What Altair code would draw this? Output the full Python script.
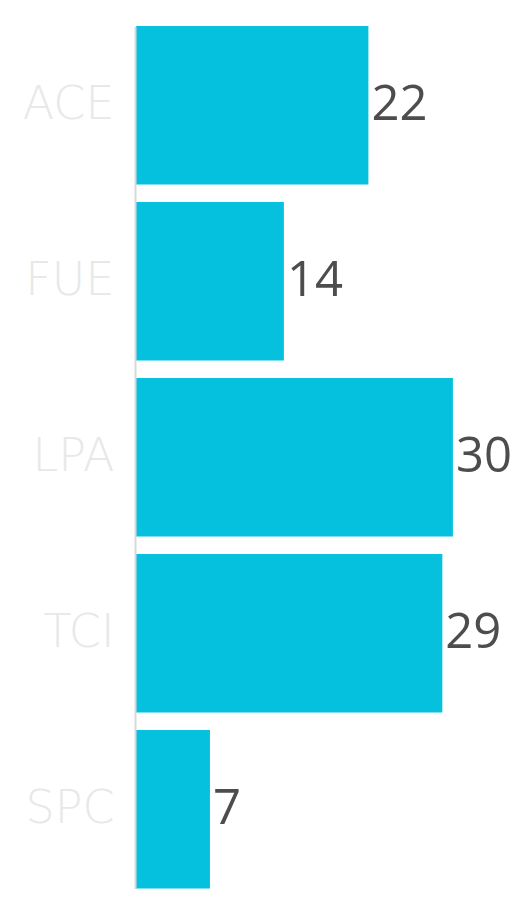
import altair as alt
import pandas as pd

categories = ["ACE", "FUE", "LPA", "TCI", "SPC"]
values = [22, 14, 30, 29, 7]

df = pd.DataFrame({"cat": categories, "val": values})

y = alt.Y(
    "cat:N",
    sort=categories,
    title=None,
    scale=alt.Scale(range=[18, 880.4], paddingInner=0.1, paddingOuter=0),
    axis=alt.Axis(
        ticks=False,
        domain=True,
        domainColor="#d9d9d9",
        domainWidth=2,
        offset=1,
        zindex=1,
        labelFont="DejaVu Sans",
        labelFontSize=46,
        labelFontWeight=300,
        labelColor="#e8e8e8",
        labelPadding=21,
        minExtent=127,
        maxExtent=127,
        grid=False,
    ),
)
x = alt.X(
    "val:Q",
    title=None,
    scale=alt.Scale(domain=[0, 35.5], nice=False),
    axis=None,
)

bars = alt.Chart(df).mark_bar(color="#05C1DE").encode(x=x, y=y)
labels = alt.Chart(df).mark_text(
    align="left", baseline="middle", dx=3, font="Open Sans", fontSize=49, color="#4d4d4d"
).encode(x=x, y=y, text="val:Q")

chart = (
    (bars + labels)
    .properties(width=375, height=916, padding=0, background="white")
    .configure_view(strokeWidth=0, stroke="transparent")
)

chart.save("out.html", embed_options={"renderer": "svg", "actions": False})
